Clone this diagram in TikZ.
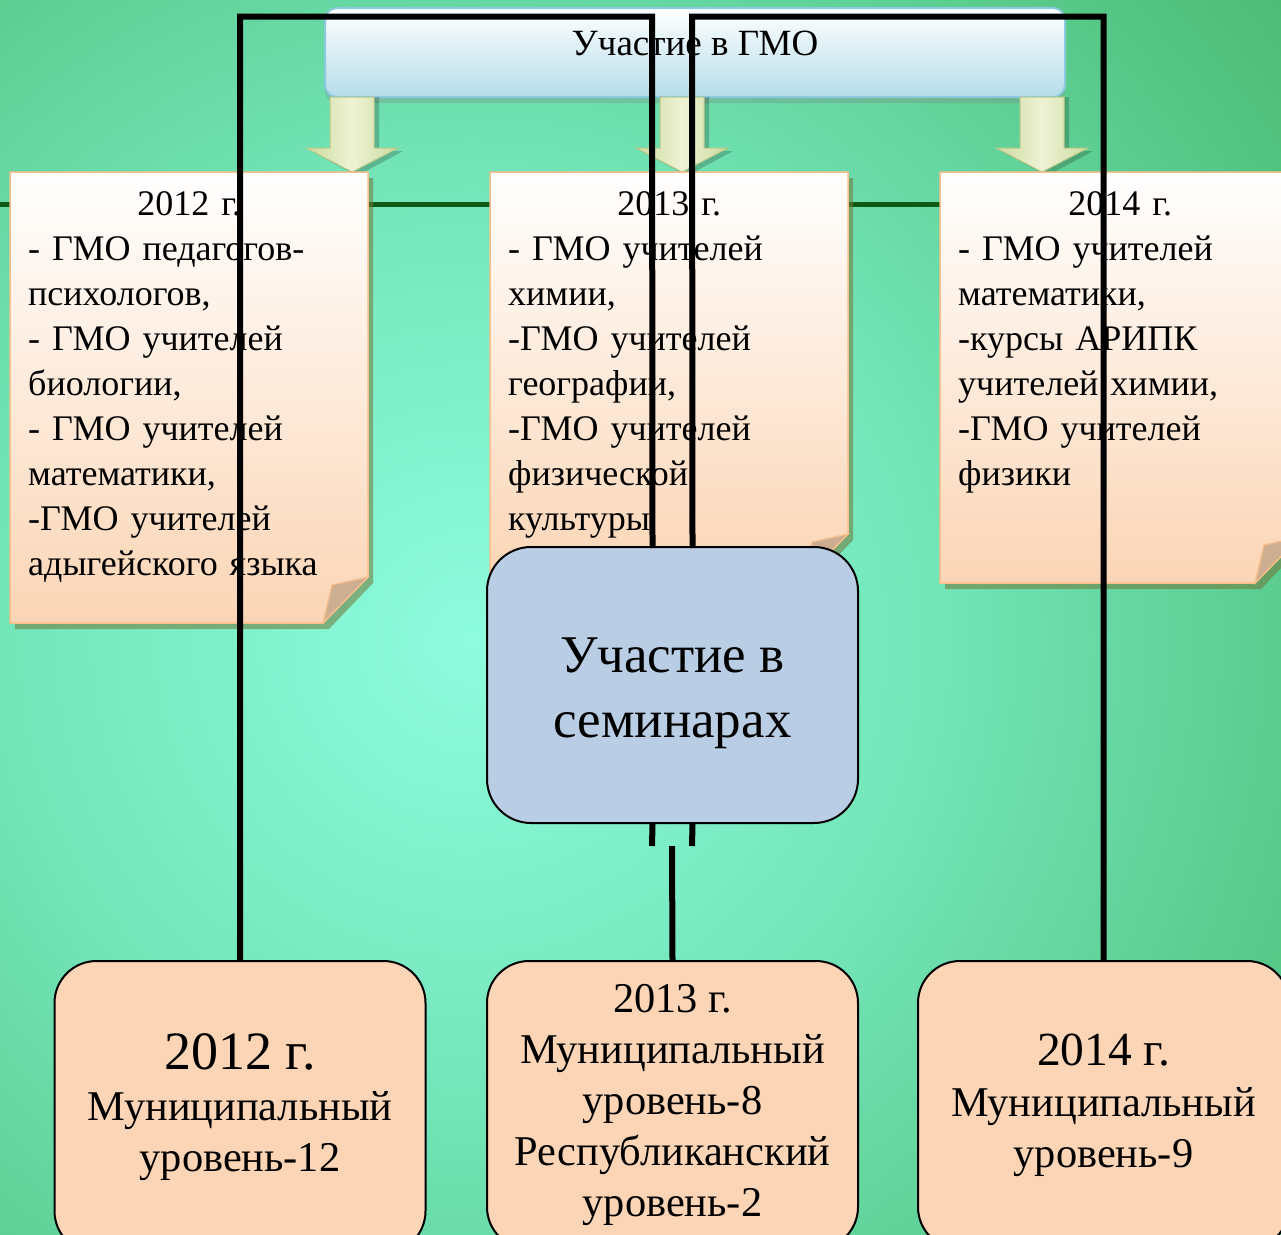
\documentclass[tikz,border=0pt]{standalone}
\usepackage{fontspec}
\setmainfont{Liberation Serif}
\usetikzlibrary{calc,shadows}

\definecolor{glowin}{RGB}{142,252,222}
\definecolor{glowmid}{RGB}{116,230,186}
\definecolor{glowedge}{RGB}{78,190,120}
\definecolor{glowout}{RGB}{44,152,68}
\definecolor{peach}{RGB}{251,213,181}
\definecolor{peachedge}{RGB}{248,190,140}
\definecolor{flaptan}{RGB}{206,174,144}
\definecolor{shadowolive}{RGB}{112,118,56}
\definecolor{skylow}{RGB}{180,221,233}
\definecolor{skyedge}{RGB}{140,200,222}
\definecolor{semblue}{RGB}{185,205,228}
\definecolor{arrowlight}{RGB}{238,243,214}
\definecolor{arrowdark}{RGB}{204,218,156}
\definecolor{arrowedge}{RGB}{186,202,138}
\definecolor{rulegreen}{RGB}{12,90,22}

\pgfdeclareradialshading{slideglow}{\pgfpoint{0bp}{0bp}}{%
  color(0bp)=(glowin); color(8bp)=(glowmid); color(18bp)=(glowedge); color(29bp)=(glowout); color(50bp)=(glowout)}

% sheet of paper with its lower right corner turned up
\newcommand{\foldnote}[4]{%
  \fill[shadowolive,opacity=.55] (#1+5,#2+6) -- (#3+5,#2+6) -- (#3+5,#4-40) -- (#3-39,#4+6) -- (#1+5,#4+6) -- cycle;
  \shadedraw[top color=white,bottom color=peach,draw=peachedge,line width=1.5]
    (#1,#2) -- (#3,#2) -- (#3,#4-46) -- (#3-45,#4) -- (#1,#4) -- cycle;
  \filldraw[fill=flaptan,draw=peachedge,line width=1.2]
    (#3-36,#4-38) -- (#3,#4-46) -- (#3-45,#4) -- cycle;
}

% fat arrow pointing down from the top box
\newcommand{\downblock}[1]{%
  \fill[black,opacity=.2] (#1-17,97) -- (#1+27,97) -- (#1+27,151) -- (#1+51,151) -- (#1+5,176) -- (#1-41,151) -- (#1-17,151) -- cycle;
  \shadedraw[left color=arrowdark,right color=arrowdark,middle color=arrowlight,draw=arrowedge,line width=1]
    (#1-22,97) -- (#1+22,97) -- (#1+22,148) -- (#1+46,148) -- (#1,172) -- (#1-46,148) -- (#1-22,148) -- cycle;
}

\begin{document}
\begin{tikzpicture}[x=1pt,y=-1pt,
  gmobox/.style={minimum width=740,minimum height=89,rounded corners=12,top color=white,bottom color=skylow,
    draw=skyedge,line width=2,text height=25,text depth=20,font=\fontsize{37}{42}\selectfont,
    drop shadow={shadow xshift=0pt,shadow yshift=-6pt,opacity=.3}},
  notetext/.style={anchor=north west,inner sep=0,align=left,font=\fontsize{36}{45}\selectfont},
  semibox/.style={minimum width=371,minimum height=276,rounded corners=44,fill=semblue,draw=black,line width=2},
  semtext/.style={align=center,inner sep=0,font=\fontsize{53}{65}\selectfont},
  levelbox/.style={minimum width=371,rounded corners=42,fill=peach,draw=black,line width=2,align=center,
    font=\fontsize{42.4}{51}\selectfont},
  wire/.style={line width=6,black}]
\useasboundingbox (0,0) rectangle (1281,1234);
\clip (0,0) rectangle (1281,1234);

% background
\shade[shading=slideglow] (470,640) circle (1400);
\draw[rulegreen,line width=5] (0,204) -- (1281,204);

% GMO block
\node[gmobox] (gmo) at (695,52.5) {Участие в ГМО};
\downblock{352}
\downblock{682}
\downblock{1042}

\foldnote{10}{172}{368}{623}
\foldnote{490}{172}{848}{580}
\foldnote{940}{172}{1300}{583}

\node[notetext,text width=322] (gmo12) at (28,191) {\hfill 2012 г.\hfill\null\\- ГМО педагогов-\\психологов,\\- ГМО учителей\\биологии,\\- ГМО учителей\\математики,\\-ГМО учителей\\адыгейского языка};
\node[notetext,text width=322] (gmo13) at (508,191) {\hfill 2013 г.\hfill\null\\- ГМО учителей\\химии,\\-ГМО учителей\\географии,\\-ГМО учителей\\физической\\культуры};
\node[notetext,text width=324] (gmo14) at (958,191) {\hfill 2014 г.\hfill\null\\- ГМО учителей\\математики,\\-курсы АРИПК\\учителей химии,\\-ГМО учителей\\физики};

% seminars
\node[semibox] (sem) at (672.5,685) {};
\node[semtext] (semlbl) at (672.5,693) {Участие в\\семинарах};

\node[levelbox,minimum height=292] (lvl12) at (240,1107) {{\fontsize{54}{54}\selectfont 2012 г.}\\Муниципальный\\уровень-12};
\node[levelbox,minimum height=288] (lvl13) at (672.5,1105) {2013 г.\\Муниципальный\\уровень-8\\Республиканский\\уровень-2};
\node[levelbox,minimum height=288] (lvl14) at (1103.5,1105) {{\fontsize{47.5}{48}\selectfont 2014 г.}\\Муниципальный\\уровень-9};

% connectors
\coordinate (ridge) at (672,16.5);
\coordinate (gap) at (672,846);
\draw[wire] (lvl12.north) |- ([xshift=-20pt]ridge) -- ([xshift=-20pt]sem.north);
\draw[wire] (lvl14.north) |- ([xshift=20pt]ridge) -- ([xshift=20pt]sem.north);
\draw[wire] ([xshift=-20pt]sem.south) -- ([xshift=-20pt]gap);
\draw[wire] ([xshift=20pt]sem.south) -- ([xshift=20pt]gap);
\draw[wire] (lvl13.north) -- (gap);

\end{tikzpicture}
\end{document}
